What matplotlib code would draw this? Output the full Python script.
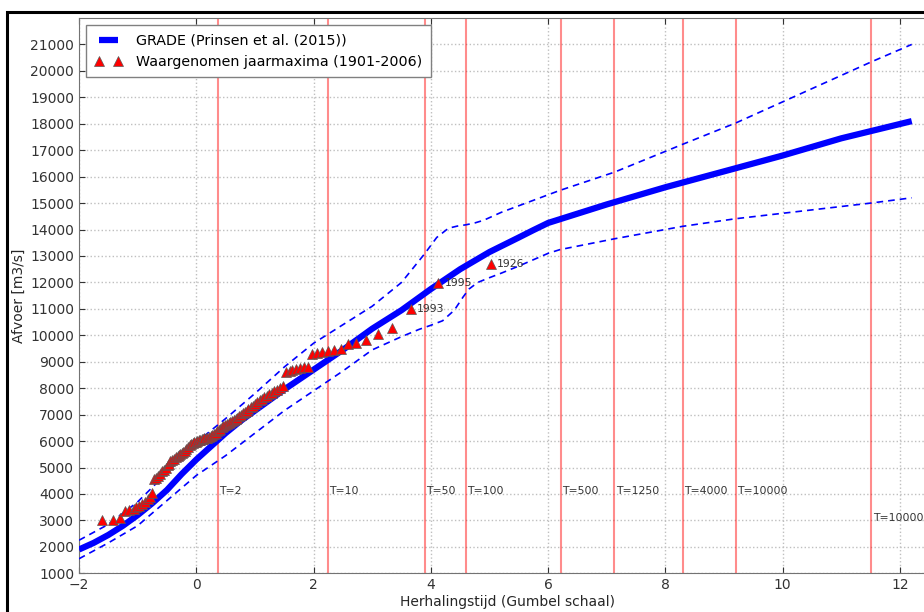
import matplotlib
matplotlib.use("Agg")
import matplotlib.pyplot as plt
from matplotlib.patches import Rectangle

# GRADE curve (central estimate)
grade_x = [-2, -1.75, -1.5, -1.25, -1, -0.75, -0.5, -0.25, 0, 0.25, 0.5, 0.75, 1, 1.5, 2, 2.5,
           3, 3.5, 4, 4.5, 5, 5.5, 5.75, 6, 6.5, 7, 8, 9, 10, 11, 12.2]
grade_y = [1900, 2150, 2450, 2800, 3200, 3650, 4150, 4750, 5300, 5800, 6300, 6750, 7150, 7950,
           8700, 9450, 10250, 10950, 11750, 12500, 13150, 13700, 13980, 14250, 14600, 14950,
           15600, 16200, 16800, 17450, 18100]

# upper confidence band
upper_x = [-2, -1.5, -1, -0.5, 0, 0.5, 1, 1.5, 2, 2.5, 3, 3.5, 3.9, 4.1, 4.3, 4.45, 4.6, 4.75,
           4.9, 5.2, 5.5, 6.2, 7.13, 8.29, 9.2, 11.5, 12.2]
upper_y = [2250, 2850, 3700, 4800, 5950, 6850, 7800, 8800, 9700, 10400, 11100, 12000, 13100,
           13700, 14050, 14130, 14180, 14250, 14350, 14650, 14900, 15480, 16170, 17220, 18030,
           20330, 21000]

# lower confidence band
lower_x = [-2, -1.5, -1, -0.5, 0, 0.5, 1, 1.5, 2, 2.5, 3, 3.5, 3.8, 4.0, 4.2, 4.4, 4.55, 4.65,
           4.8, 5.0, 5.2, 5.5, 6, 6.2, 7.13, 8.29, 9.2, 11.5, 12.2]
lower_y = [1550, 2150, 2800, 3750, 4700, 5450, 6300, 7150, 7900, 8650, 9450, 9950, 10225,
           10380, 10550, 10950, 11450, 11750, 12000, 12180, 12350, 12620, 13100, 13240, 13650,
           14120, 14410, 15000, 15200]

# observed annual maxima (Gumbel reduced variate, discharge)
obs_x = [-1.61, -1.42, -1.30, -1.21, -1.14, -1.07, -1.02, -0.97, -0.92, -0.87, -0.83, -0.79,
         -0.75, -0.72, -0.68, -0.65, -0.62, -0.58, -0.55, -0.52, -0.49, -0.46, -0.44, -0.41,
         -0.38, -0.35, -0.32, -0.30, -0.27, -0.24, -0.22, -0.19, -0.17, -0.14, -0.11, -0.09,
         -0.06, -0.04, -0.01, 0.01, 0.04, 0.07, 0.09, 0.12, 0.14, 0.17, 0.19, 0.22, 0.25,
         0.27, 0.30, 0.33, 0.35, 0.38, 0.41, 0.43, 0.46, 0.49, 0.52, 0.55, 0.58, 0.61, 0.64,
         0.67, 0.70, 0.73, 0.76, 0.79, 0.83, 0.86, 0.89, 0.93, 0.97, 1.00, 1.04, 1.08, 1.12,
         1.16, 1.20, 1.24, 1.29, 1.33, 1.38, 1.43, 1.48, 1.53, 1.59, 1.64, 1.70, 1.77, 1.83,
         1.91, 1.98, 2.06, 2.15, 2.24, 2.35, 2.46, 2.59, 2.73, 2.90, 3.10, 3.34, 3.66, 4.13,
         5.02]
obs_y = [3000, 3000, 3080, 3370, 3400, 3450, 3500, 3560, 3630, 3700, 3800, 3880,
         4050, 4550, 4600, 4680, 4760, 4850, 4900, 4980, 5080, 5150, 5230, 5300,
         5340, 5390, 5420, 5480, 5520, 5560, 5600, 5640, 5700, 5760, 5850, 5900,
         5930, 5960, 5980, 6000, 6030, 6050, 6070, 6090, 6100, 6110, 6130, 6160, 6200,
         6230, 6270, 6320, 6380, 6430, 6470, 6520, 6560, 6600, 6640, 6680, 6720, 6760, 6800,
         6840, 6880, 6950, 7000, 7050, 7100, 7150, 7220, 7280, 7340, 7400, 7480, 7540, 7600,
         7660, 7710, 7780, 7830, 7880, 7940, 8000, 8100, 8620, 8650, 8680, 8720, 8780, 8800,
         8810, 9280, 9340, 9380, 9400, 9430, 9480, 9680, 9720, 9830, 10040, 10290, 11010, 11980,
         12690]

# labelled years
year_labels = ["1993", "1995", "1926"]
year_x = [3.66, 4.13, 5.02]
year_y = [11010, 11980, 12690]

# return period lines (position on Gumbel axis) and labels
rp_x = [0.367, 2.250, 3.902, 4.600, 6.214, 7.131, 8.294, 9.210, 11.513]
rp_labels = ["T=2", "T=10", "T=50", "T=100", "T=500", "T=1250", "T=4000", "T=10000", "T=100000"]
rp_label_y = [4100, 4100, 4100, 4100, 4100, 4100, 4100, 4100, 3100]

fig = plt.figure(figsize=(9.24, 6.12), dpi=100)
ax = fig.add_axes([79 / 924, 1 - 573.3 / 612, 0.9266, (573.3 - 18) / 612])

# figure frame
fig.patches.append(Rectangle((7.5 / 924, -0.1), 1.2, 1.1 - 12 / 612, transform=fig.transFigure,
                             fill=False, lw=2.2, ec="black", zorder=10))

for xv in rp_x:
    ax.axvline(xv, color="red", alpha=0.45, lw=1.5, zorder=1)
for xv, lab, yv in zip(rp_x, rp_labels, rp_label_y):
    ax.text(xv + 0.02, yv, lab, fontsize=7.8, color="0.2", ha="left", va="center")

ax.plot(grade_x, grade_y, color="blue", lw=4.5, solid_capstyle="butt", solid_joinstyle="round",
        label="GRADE (Prinsen et al. (2015))", zorder=3)
ax.plot(upper_x, upper_y, color="blue", lw=1.2, dashes=(4, 3), zorder=3)
ax.plot(lower_x, lower_y, color="blue", lw=1.2, dashes=(4, 3), zorder=3)
ax.plot(obs_x, obs_y, linestyle="none", marker="^", ms=7, color="red", mec="0.35", mew=0.5,
        label="Waargenomen jaarmaxima (1901-2006)", zorder=4)

for lab, xv, yv in zip(year_labels, year_x, year_y):
    ax.text(xv + 0.1, yv, lab, fontsize=7.8, color="0.2", ha="left", va="center")

ax.set_xlim(-2, 12.6)
ax.set_ylim(1000, 22000)
ax.set_xticks(range(-2, 13, 2))
ax.set_yticks(range(1000, 22000, 1000))
ax.grid(True, color="0.75", linestyle=":", lw=1)
ax.set_axisbelow(True)
ax.tick_params(direction="in", top=True, right=True, labelsize=10, colors="0.2", length=4)
for s in ax.spines.values():
    s.set_color("0.45")
ax.set_xlabel("Herhalingstijd (Gumbel schaal)", fontsize=10, color="0.15", labelpad=2)
ax.set_ylabel("Afvoer [m3/s]", fontsize=10, color="0.15", labelpad=3)

leg = ax.legend(loc="upper left", numpoints=2, fontsize=10.3, fancybox=False, framealpha=1,
                edgecolor="0.5", handlelength=1.9, handletextpad=1.0, borderaxespad=0.5,
                borderpad=0.6, labelspacing=0.5)
leg.get_frame().set_linewidth(1.0)

fig.savefig("out.png", dpi=100)
